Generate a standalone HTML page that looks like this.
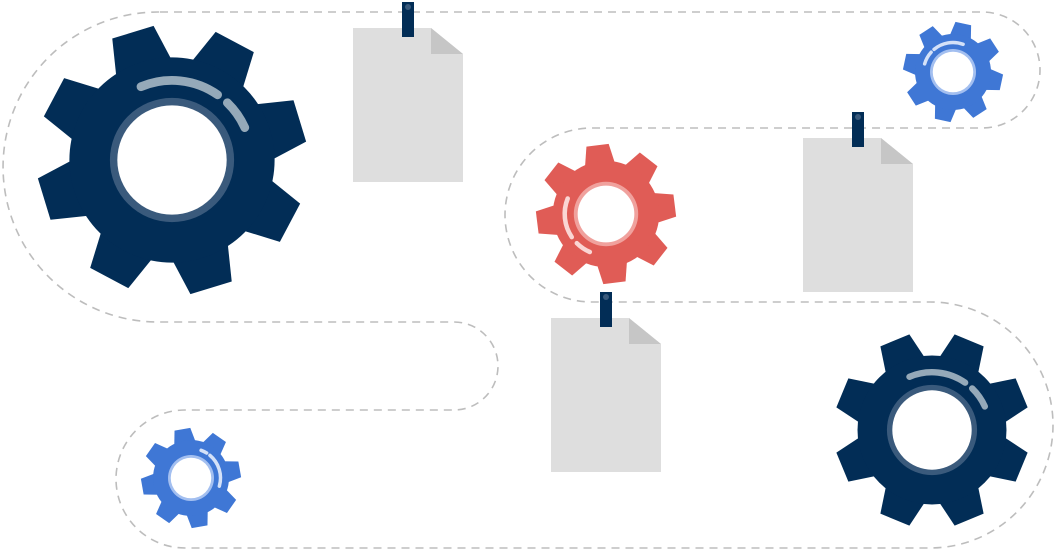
<!DOCTYPE html>
<html><head><meta charset="utf-8"><style>html,body{margin:0;padding:0;background:#fff}svg{display:block}</style></head>
<body>
<svg width="1057" height="550" viewBox="0 0 1057 550" xmlns="http://www.w3.org/2000/svg">
<defs>
<g id="teeth">
<polygon points="-22,-68 22,-68 16,-99 -16,-99"/>
<polygon points="-22,-68 22,-68 16,-99 -16,-99" transform="rotate(45)"/>
<polygon points="-22,-68 22,-68 16,-99 -16,-99" transform="rotate(90)"/>
<polygon points="-22,-68 22,-68 16,-99 -16,-99" transform="rotate(135)"/>
<polygon points="-22,-68 22,-68 16,-99 -16,-99" transform="rotate(180)"/>
<polygon points="-22,-68 22,-68 16,-99 -16,-99" transform="rotate(225)"/>
<polygon points="-22,-68 22,-68 16,-99 -16,-99" transform="rotate(270)"/>
<polygon points="-22,-68 22,-68 16,-99 -16,-99" transform="rotate(315)"/>
</g>
</defs>
<path d="M160,12 H982 A58,58 0 0 1 982,128 H592 A87,87 0 0 0 592,302 H930 A123,123 0 0 1 930,548 H185 A69,69 0 0 1 185,410 H454 A44,44 0 0 0 454,322 H158 A155,155 0 0 1 158,12 Z" fill="none" stroke="#bdbdbd" stroke-width="1.6" stroke-dasharray="8,6"/>

<!-- papers -->
<g fill="#dedede">
<path d="M353,28 H431 L463,54 V182 H353 Z"/>
<path d="M803,138 H881 L913,164 V292 H803 Z"/>
<path d="M551,318 H629 L661,344 V472 H551 Z"/>
</g>
<g fill="#c6c6c6">
<path d="M431,28 L463,54 H431 Z"/>
<path d="M881,138 L913,164 H881 Z"/>
<path d="M629,318 L661,344 H629 Z"/>
</g>
<g fill="#022d56">
<rect x="402" y="2" width="12" height="35"/>
<rect x="852" y="112" width="12" height="35"/>
<rect x="600" y="292" width="12" height="35"/>
</g>
<g fill="#3a5a7c">
<circle cx="408" cy="7" r="3"/><circle cx="858" cy="117" r="3"/><circle cx="606" cy="297" r="3"/>
</g>

<!-- big navy gear -->
<g transform="translate(172,160) scale(1.35)">
<g fill="#022d56"><g transform="rotate(-17)"><use href="#teeth"/></g><circle r="76"/></g>
<circle r="46" fill="#3a5a7c"/><circle r="40.5" fill="#fff"/>
<g fill="none" stroke="#95a9b9" stroke-width="6.5" stroke-linecap="round">
<path d="M-23,-54.3 A59,59 0 0 1 33.8,-48.3"/><path d="M41,-42.4 A59,59 0 0 1 53.9,-24"/>
</g></g>

<!-- navy gear bottom right -->
<g transform="translate(932,430) scale(0.98)">
<g fill="#022d56"><g transform="rotate(22.5)"><use href="#teeth"/></g><circle r="76"/></g>
<circle r="46" fill="#3a5a7c"/><circle r="40.5" fill="#fff"/>
<g fill="none" stroke="#95a9b9" stroke-width="6.5" stroke-linecap="round">
<path d="M-23,-54.3 A59,59 0 0 1 33.8,-48.3"/><path d="M41,-42.4 A59,59 0 0 1 53.9,-24"/>
</g></g>

<!-- red gear -->
<g transform="translate(606,214) scale(0.70)">
<g fill="#e05c56"><g transform="rotate(-7)"><use href="#teeth"/></g><circle r="76"/></g>
<circle r="46" fill="#f0a19d"/><circle r="40.5" fill="#fff"/>
<g fill="none" stroke="#fad6d4" stroke-width="6.5" stroke-linecap="round">
<path d="M-54.7,-22.1 A59,59 0 0 0 -48.9,33"/><path d="M-41.7,41.7 A59,59 0 0 0 -23.1,54.3"/>
</g></g>

<!-- blue gear top -->
<g transform="translate(953,72) scale(0.50)">
<g fill="#3f77d5"><g transform="rotate(12)"><use href="#teeth"/></g><circle r="76"/></g>
<circle r="46" fill="#a3bff0"/><circle r="40.5" fill="#fff"/>
<g fill="none" stroke="#d4e1f8" stroke-width="7" stroke-linecap="round">
<path d="M-37.9,-45.2 A59,59 0 0 1 20.2,-55.4"/><path d="M-56.7,-16.3 A59,59 0 0 1 -43.8,-39.5"/>
</g></g>

<!-- blue gear bottom -->
<g transform="translate(191,478) scale(0.50)">
<g fill="#3f77d5"><g transform="rotate(-10)"><use href="#teeth"/></g><circle r="76"/></g>
<circle r="46" fill="#a3bff0"/><circle r="40.5" fill="#fff"/>
<g fill="none" stroke="#d4e1f8" stroke-width="7" stroke-linecap="round">
<path d="M37.9,-45.2 A59,59 0 0 1 56.7,16.3"/><path d="M20.2,-55.4 A59,59 0 0 1 31.3,-50"/>
</g></g>
</svg>
</body></html>
